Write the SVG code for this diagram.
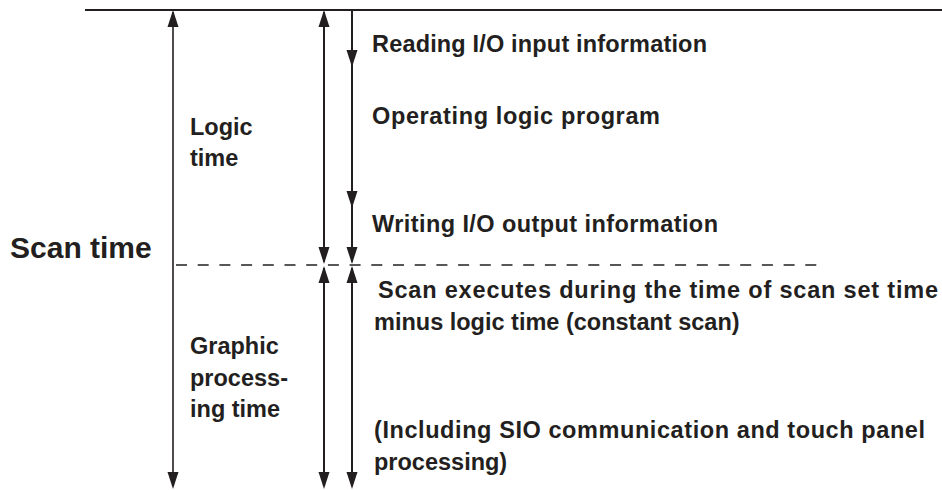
<svg xmlns="http://www.w3.org/2000/svg" width="942" height="490" viewBox="0 0 942 490">
<style>
.t{font-family:"Liberation Sans",Arial,sans-serif;font-weight:bold;fill:#231f20;font-size:23.5px}
.ln{stroke:#231f20;fill:none}
.ah{fill:#231f20}
</style>
<defs>
<path id="up" d="M0,0 L-5.5,17 L5.5,17 Z"/>
<path id="dn" d="M0,0 L-5.5,-17 L5.5,-17 Z"/>
</defs>
<rect width="942" height="490" fill="#fff"/>
<g id="connectors">
<line class="ln" x1="85" y1="10" x2="942" y2="10" stroke-width="2"/>
<line class="ln" x1="176" y1="265" x2="820" y2="265" stroke-width="1.5" stroke-dasharray="11 10.7" stroke="#444"/>
<line class="ln" x1="173" y1="12" x2="173" y2="486" stroke-width="1.6"/>
<use href="#up" x="173" y="10" class="ah"/>
<use href="#dn" x="173" y="489" class="ah"/>
<line class="ln" x1="324" y1="12" x2="324" y2="262" stroke-width="2"/>
<use href="#up" x="324" y="10" class="ah"/>
<use href="#dn" x="324" y="264" class="ah"/>
<line class="ln" x1="324" y1="268" x2="324" y2="486" stroke-width="2"/>
<use href="#up" x="324" y="266" class="ah"/>
<use href="#dn" x="324" y="489" class="ah"/>
<line class="ln" x1="352" y1="10" x2="352" y2="262" stroke-width="2"/>
<use href="#dn" x="352" y="67" class="ah"/>
<use href="#dn" x="352" y="208" class="ah"/>
<use href="#dn" x="352" y="264" class="ah"/>
<line class="ln" x1="352" y1="268" x2="352" y2="486" stroke-width="2"/>
<use href="#up" x="352" y="266" class="ah"/>
<use href="#dn" x="352" y="489" class="ah"/>
</g>
<g id="scan-time"><text class="t" x="10" y="258" style="font-size:30px">Scan time</text></g>
<g id="logic-time"><text class="t" x="190" y="135">Logic</text><text class="t" x="190" y="166">time</text></g>
<g id="graphic-time"><text class="t" x="190" y="354">Graphic</text><text class="t" x="190" y="386">process-</text><text class="t" x="190" y="417">ing time</text></g>
<g id="reading"><text class="t" x="372" y="52" textLength="335">Reading I/O input information</text></g>
<g id="operating"><text class="t" x="372" y="124" textLength="288">Operating logic program</text></g>
<g id="writing"><text class="t" x="372" y="232" textLength="346">Writing I/O output information</text></g>
<g id="scan-exec"><text class="t" x="378" y="298" textLength="560">Scan executes during the time of scan set time</text><text class="t" x="374" y="330">minus logic time (constant scan)</text></g>
<g id="including"><text class="t" x="374" y="438" textLength="551">(Including SIO communication and touch panel</text><text class="t" x="374" y="470">processing)</text></g>
</svg>
